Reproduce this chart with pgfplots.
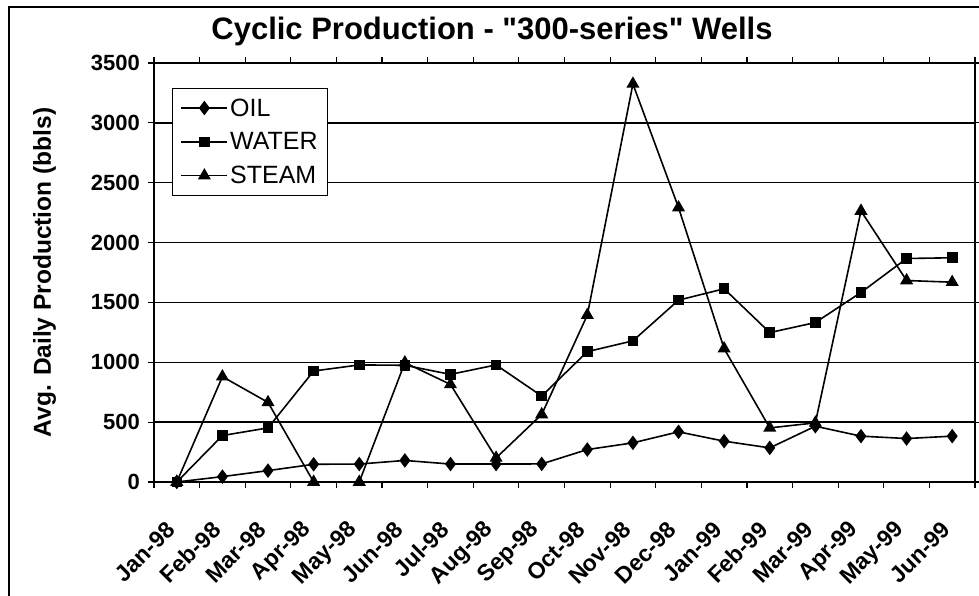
\documentclass[border=0pt]{standalone}
\usepackage{fontspec}
\setmainfont{Liberation Sans}[Ligatures=TeXOff]
\usepackage{pgfplots}
\usepackage{pgfplotstable}
\pgfplotsset{compat=1.18}

% monthly averages, 300-series wells
\pgfplotstableread{
idx oil water steam
0   0    0    0
1   45   388  880
2   95   452  665
3   148  927  0
4   150  978  0
5   180  975  997
6   150  899  815
7   150  978  201
8   151  718  564
9   271  1089 1394
10  327  1179 3325
11  419  1519 2292
12  341  1614 1114
13  285  1248 452
14  466  1332 494
15  383  1583 2264
16  363  1867 1683
17  383  1873 1669
}\wells

\begin{document}
\begin{tikzpicture}
\draw[line width=1.5bp] (9bp,0bp) -- (9bp,589bp) -- (979bp,589bp);
\begin{axis}[
    at={(154bp,114bp)}, anchor=south west,
    scale only axis, width=821bp, height=419bp,
    xmin=-0.5, xmax=17.5, ymin=0, ymax=3500,
    xtick={-0.5,0.5,...,17.5}, xticklabels={},
    extra x ticks={0,...,17},
    extra x tick labels={Jan-98,Feb-98,Mar-98,Apr-98,May-98,Jun-98,Jul-98,Aug-98,Sep-98,Oct-98,Nov-98,Dec-98,Jan-99,Feb-99,Mar-99,Apr-99,May-99,Jun-99},
    extra x tick style={major tick length=0pt},
    ytick={0,500,...,3500},
    ymajorgrids, grid style={black, line width=1.3bp},
    axis line style={line width=1.6bp},
    tick align=outside, major tick length=6bp,
    tick style={black, line width=1.2bp},
    /pgf/number format/assume math mode=true,
    /pgf/number format/1000 sep={},
    tick label style={font=\fontsize{22bp}{26bp}\selectfont\bfseries},
    xticklabel style={font=\fontsize{23bp}{26bp}\selectfont\bfseries,
        xshift=-6bp, yshift=-44bp, rotate=45, anchor=east, inner sep=0pt},
    yticklabel style={inner sep=0pt, xshift=-8bp},
    ylabel={Avg. Daily Production (bbls)},
    ylabel style={at={(axis description cs:-0.1255,0.5)}, anchor=base,
        font=\fontsize{24.5bp}{30bp}\selectfont\bfseries},
    title={Cyclic Production - "300-series" Wells},
    title style={at={(axis description cs:0.4117,1.043)}, anchor=base,
        font=\fontsize{31bp}{36bp}\selectfont\bfseries},
    legend style={at={(axis description cs:0.0219,0.9403)}, anchor=north west,
        draw=black, line width=1.2bp, font=\fontsize{25bp}{30bp}\selectfont,
        inner xsep=8bp, inner ysep=8bp, row sep=11bp},
    legend cell align=left,
    legend image code/.code={\draw[mark repeat=2, mark phase=2, #1]
        plot coordinates {(0bp,0bp) (23bp,0bp) (46bp,0bp)};},
    every axis plot/.append style={black, line width=1.6bp, mark options={solid}},
    clip=false,
]
\addplot[mark=diamond*, mark size=6bp] table[x=idx, y=oil] {\wells};
\addplot[mark=square*, mark size=4.5bp] table[x=idx, y=water] {\wells};
\addplot[mark=triangle*, mark size=6bp] table[x=idx, y=steam] {\wells};
\legend{OIL, WATER, STEAM}
\end{axis}
\pgfresetboundingbox
\path[use as bounding box] (0bp,0bp) rectangle (979bp,596bp);
\end{tikzpicture}
\end{document}
